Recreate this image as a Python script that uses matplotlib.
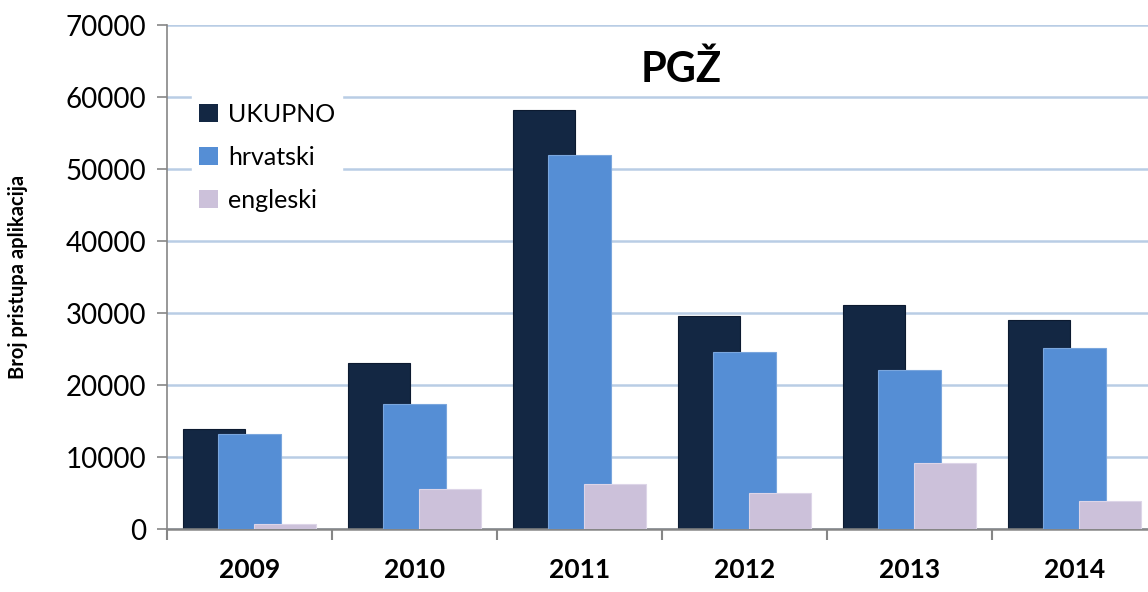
import numpy as np
import matplotlib
matplotlib.use('Agg')
import matplotlib.pyplot as plt
from matplotlib.patches import Patch

# ── data ─────────────────────────────────────────
YEARS    = ['2009', '2010', '2011', '2012', '2013', '2014']
UKUPNO   = [13900, 23000, 58200, 29600, 31100, 29000]
HRVATSKI = [13200, 17400, 52000, 24600, 22100, 25100]
ENGLESKI = [700, 5600, 6300, 5000, 9200, 3900]

SERIES = [('UKUPNO', UKUPNO, '#132743', '#0c1a30'),
          ('hrvatski', HRVATSKI, '#558ed5', '#7aa6dd'),
          ('engleski', ENGLESKI, '#ccc1da', '#ddd5e8')]

plt.rcParams['font.family'] = ['Lato', 'DejaVu Sans']

W, H = 1148, 592
fig = plt.figure(figsize=(W / 100, H / 100), dpi=100)
fig.patch.set_facecolor('white')

# axes: left 167px, top 25px, bottom 529px, 6 categories of 165px
ax = fig.add_axes([167 / W, 1 - 529 / H, 990 / W, 504 / H])

x = np.arange(len(YEARS))
bw, off = 0.376, 0.218
for i, (name, vals, fc, ec) in enumerate(SERIES):
    ax.bar(x + (i - 1) * off, vals, width=bw, color=fc, edgecolor=ec,
           linewidth=0.8, zorder=2 + i, label=name)

ax.set_xlim(-0.5, len(YEARS) - 0.5)
ax.set_ylim(0, 70000)
ax.set_yticks(range(0, 70001, 10000))
ax.tick_params(axis='y', labelsize=20, length=7, width=1.2,
               color='#868686', pad=8)
ax.set_xticks(np.arange(-0.5, len(YEARS), 1.0))
ax.set_xticklabels([])
ax.tick_params(axis='x', length=8, width=1.5, color='#868686')
for k, yr in enumerate(YEARS):
    ax.text(k, -0.058, yr, transform=ax.get_xaxis_transform(),
            ha='center', va='top', fontsize=19, fontweight='bold')

ax.grid(axis='y', color='#b9cde5', lw=1.8, zorder=0)
ax.set_axisbelow(True)
for s in ['top', 'right']:
    ax.spines[s].set_visible(False)
ax.spines['left'].set_color('#868686')
ax.spines['left'].set_linewidth(1.2)
ax.spines['bottom'].set_color('#868686')
ax.spines['bottom'].set_linewidth(1.8)
ax.spines['left'].set_zorder(6)

ax.set_ylabel('Broj pristupa aplikacija', fontsize=14.5, fontweight='bold')
ax.yaxis.set_label_coords(-139 / 990, 0.5)

# title with white box covering grid
ax.text(514 / 990, 0.912, 'PGŽ', transform=ax.transAxes,
        ha='center', va='center', fontsize=30, fontweight='bold',
        bbox=dict(facecolor='white', edgecolor='none', pad=1), zorder=7)

handles = [Patch(facecolor=fc, edgecolor='none', label=n)
           for n, _, fc, _ in SERIES]
leg = ax.legend(handles=handles, loc='upper left',
                bbox_to_anchor=(12 / 990, 0.885), fontsize=18,
                frameon=True, framealpha=1, edgecolor='white',
                handlelength=0.75, handleheight=0.75, handletextpad=0.4,
                labelspacing=0.8, borderpad=0.3, fancybox=False)
leg.set_zorder(7)

fig.savefig('out.png', dpi=100, facecolor='white')
